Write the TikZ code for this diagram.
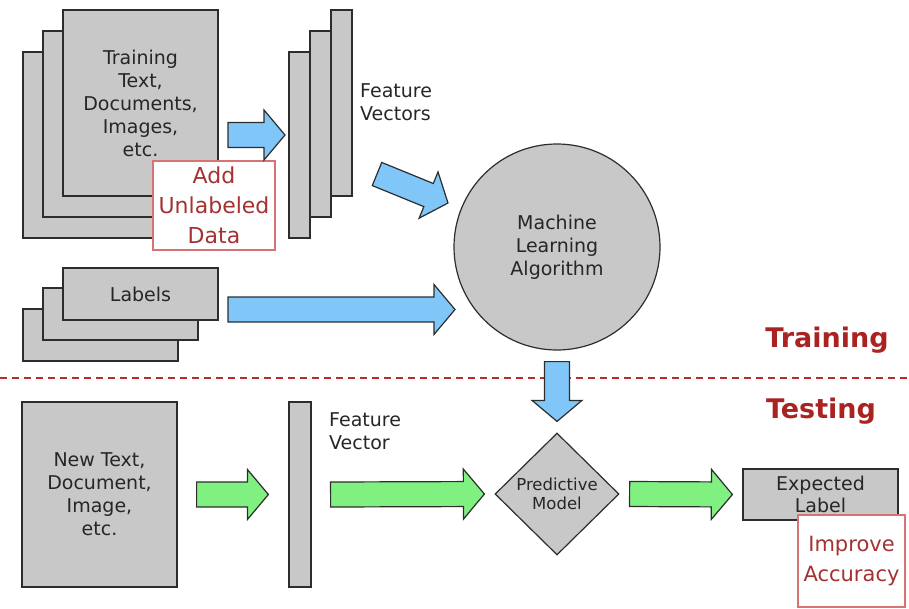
\documentclass[tikz,border=0pt]{standalone}
\usepackage{fontspec}
\setmainfont{DejaVu Sans}
\usepackage{xcolor}
\usetikzlibrary{calc, shapes.geometric}

\definecolor{boxgray}{RGB}{200,200,200}
\definecolor{edgegray}{RGB}{45,45,45}
\definecolor{arrowblue}{RGB}{128,198,248}
\definecolor{arrowgreen}{RGB}{128,240,128}
\definecolor{phasered}{RGB}{170,35,35}
\definecolor{splitred}{RGB}{185,45,45}
\definecolor{noteedge}{RGB}{215,115,115}
\definecolor{notetext}{RGB}{165,50,50}

\newcommand{\bodyfont}{\fontsize{19}{23}\selectfont}
\newcommand{\notefont}{\fontsize{22}{30}\selectfont}
\newcommand{\smallfont}{\fontsize{16.5}{18.5}\selectfont}
\newcommand{\phasefont}{\fontsize{27}{30}\selectfont\bfseries}

\tikzset{
  box/.style={draw=edgegray, fill=boxgray, line width=1.2pt, inner sep=0pt,
    align=center, font=\bodyfont, text=black!85},
  note/.style={draw=noteedge, fill=white, line width=1.2pt, inner sep=0pt,
    align=center, text=notetext, font=\notefont},
  phase/.style={text=phasered, font=\phasefont, inner sep=0pt},
  % wide block arrow between two points
  fat/.style={draw=edgegray, fill=#1, line width=1.2pt, line join=miter,
    to path={
      ($(\tikztostart)!12.5pt!90:(\tikztotarget)$)
      -- ($(\tikztotarget)!21pt!(\tikztostart)!12.5pt!-90:(\tikztostart)$)
      -- ($(\tikztotarget)!21pt!(\tikztostart)!25pt!-90:(\tikztostart)$)
      -- (\tikztotarget)
      -- ($(\tikztotarget)!21pt!(\tikztostart)!25pt!90:(\tikztostart)$)
      -- ($(\tikztotarget)!21pt!(\tikztostart)!12.5pt!90:(\tikztostart)$)
      -- ($(\tikztostart)!12.5pt!-90:(\tikztotarget)$)
      -- cycle}}
}

\begin{document}
\begin{tikzpicture}[x=1pt, y=-1pt]
    \useasboundingbox (0,0) rectangle (909,608);

    % Training documents
    \node[box, minimum width=155, minimum height=186] (doc3) at (100.5,145) {};
    \node[box, minimum width=155, minimum height=186] (doc2) at (120.5,124) {};
    \node[box, minimum width=155, minimum height=186] (doc1) at (140.5,103)
        {Training\\Text,\\Documents,\\Images,\\etc.};
    \node[note, minimum width=122, minimum height=89] (unlab) at (214,205.5)
        {Add\\Unlabeled\\Data};

    % Feature vectors
    \node[box, minimum width=21, minimum height=186] (fv3) at (299.5,145) {};
    \node[box, minimum width=21, minimum height=186] (fv2) at (320.5,124) {};
    \node[box, minimum width=21, minimum height=186] (fv1) at (341.5,103) {};
    \node[anchor=west, align=left, font=\bodyfont, text=black!85, inner sep=0pt]
        (fvtxt) at (360,102) {Feature\\Vectors};

    % Labels
    \node[box, minimum width=155, minimum height=52] (lab3) at (100.5,335) {};
    \node[box, minimum width=155, minimum height=52] (lab2) at (120.5,314) {};
    \node[box, minimum width=155, minimum height=52] (lab1) at (140.5,294) {Labels};

    % Learner
    \node[box, circle, minimum size=206] (mla) at (557,247)
        {Machine\\Learning\\Algorithm};

    \draw[fat=arrowblue] (228,135) to (285,135);
    \draw[fat=arrowblue] (377,174) to (448,203);
    \draw[fat=arrowblue] (228,309.5) to (455,309.5);

    % Training / testing split
    \node[phase] (train) at (827,340) {Training};
    \node[phase] (test) at (821,411) {Testing};
    \draw[splitred, line width=1.6pt, dash pattern=on 7pt off 5pt] (0,378) -- (909,378);

    % Testing
    \node[box, minimum width=155, minimum height=185] (newdoc) at (99.5,494.5)
        {New Text,\\Document,\\Image,\\etc.};
    \node[box, minimum width=22, minimum height=185] (fvec) at (300,494.5) {};
    \node[anchor=west, align=left, font=\bodyfont, text=black!85, inner sep=0pt]
        (fvectxt) at (329,431.5) {Feature\\Vector};
    \node[box, diamond, minimum width=124, minimum height=122, font=\smallfont]
        (model) at (557,494) {Predictive\\Model};
    \node[box, minimum width=155, minimum height=51, font=\fontsize{19}{22}\selectfont]
        (expect) at (820.5,494.5) {Expected\\Label};
    \node[note, minimum width=107, minimum height=92, font=\fontsize{21}{30}\selectfont]
        (improve) at (851.5,561) {Improve\\Accuracy};

    \draw[fat=arrowblue] ([yshift=-11pt]mla.south) to ([yshift=11pt]model.north);
    \draw[fat=arrowgreen] ([xshift=19pt]newdoc.east) to ([xshift=-20pt]fvec.west);
    \draw[fat=arrowgreen] ([xshift=19pt]fvec.east) to ([xshift=-10pt]model.west);
    \draw[fat=arrowgreen] ([xshift=10pt]model.east) to ([xshift=-10pt]expect.west);
\end{tikzpicture}
\end{document}
